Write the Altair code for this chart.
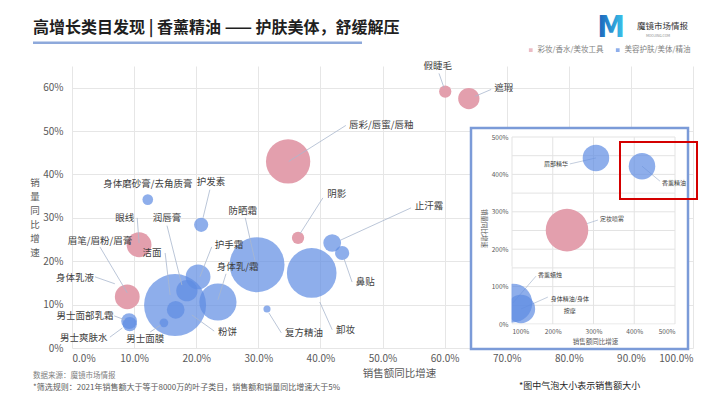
import altair as alt
import pandas as pd

FONT = "Noto Sans CJK SC"
PINK = "#E39FAD"
BLUE = "#5E8BE2"
LEADER = "#A9B7CE"
CAT_P = "彩妆/香水/美妆工具"
CAT_B = "美容护肤/美体/精油"

# ---------------- main chart data ----------------
names = ["身体乳液", "洁面", "防晒霜", "卸妆", "身体乳/霜", "护手霜", "润唇膏", "粉饼", "止汗露",
         "男士面部乳霜", "男士爽肤水", "护发素", "鼻贴", "身体磨砂膏/去角质膏", "男士面膜", "复方精油",
         "唇彩/唇蜜/唇釉", "眉笔/眉粉/眉膏", "眼线", "遮瑕", "假睫毛", "阴影"]
cats = [CAT_B] * 16 + [CAT_P] * 6
sales_growth = [0.089, 0.166, 0.298, 0.386, 0.235, 0.203, 0.185, 0.167, 0.419,
                0.092, 0.093, 0.208, 0.435, 0.122, 0.148, 0.314,
                0.348, 0.089, 0.108, 0.639, 0.601, 0.364]
volume_growth = [0.118, 0.099, 0.192, 0.173, 0.106, 0.164, 0.132, 0.088, 0.242,
                 0.062, 0.055, 0.284, 0.219, 0.342, 0.058, 0.090,
                 0.430, 0.118, 0.238, 0.575, 0.591, 0.254]
sales_size = [10, 153, 120, 98, 55, 24.5, 18, 12.5, 12.5,
              10, 8, 8, 8, 4.5, 3, 2,
              78, 24.5, 24.5, 18, 6, 6]

x_ticks = [0.0, 0.1, 0.2, 0.3, 0.4, 0.5, 0.6, 0.7, 0.8, 0.9, 1.0]
y_ticks = [0.0, 0.1, 0.2, 0.3, 0.4, 0.5, 0.6]

# labels of the main chart
lab_names = ["假睫毛", "遮瑕", "唇彩/唇蜜/唇釉", "身体磨砂膏/去角质膏", "护发素", "阴影", "止汗露", "鼻贴",
             "眼线", "防晒霜", "卸妆", "护手霜", "身体乳/霜", "润唇膏", "洁面", "粉饼", "复方精油",
             "眉笔/眉粉/眉膏", "身体乳液", "男士面部乳霜", "男士爽肤水", "男士面膜"]
lab_x = [0.589, 0.680, 0.446, 0.122, 0.224, 0.411, 0.552, 0.457,
         0.085, 0.275, 0.425, 0.230, 0.233, 0.153, 0.129, 0.235, 0.343,
         0.045, 0.005, 0.021, 0.019, 0.118]
lab_y = [0.649, 0.600, 0.515, 0.379, 0.383, 0.356, 0.328, 0.152,
         0.300, 0.316, 0.042, 0.238, 0.187, 0.300, 0.219, 0.037, 0.035,
         0.247, 0.162, 0.074, 0.023, 0.021]
lab_align = ["center", "left", "left", "center", "center", "left", "left", "left",
             "center", "center", "left", "left", "left", "center", "center", "left", "left",
             "center", "center", "center", "center", "center"]
lead_x1 = [0.591, 0.675, 0.441, None, 0.222, 0.404, 0.546, 0.451,
           0.105, 0.279, 0.419, 0.225, 0.248, 0.153, 0.150, 0.229, 0.337,
           0.045, 0.037, 0.068, 0.061, 0.126]
lead_y1 = [0.633, 0.596, 0.513, None, 0.365, 0.346, 0.323, 0.152,
           0.300, 0.300, 0.042, 0.233, 0.171, 0.282, 0.219, 0.039, 0.035,
           0.233, 0.164, 0.074, 0.025, 0.037]
lead_x2 = [0.599, 0.649, 0.349, None, 0.211, 0.367, 0.433, 0.438,
           0.108, 0.295, 0.399, 0.206, 0.235, 0.177, 0.158, 0.193, 0.317,
           0.089, 0.069, 0.085, 0.081, 0.143]
lead_y2 = [0.600, 0.580, 0.430, None, 0.300, 0.263, 0.249, 0.206,
           0.242, 0.199, 0.106, 0.164, 0.111, 0.145, 0.122, 0.076, 0.081,
           0.127, 0.148, 0.065, 0.046, 0.053]

# ---------------- inset data ----------------
in_names = ["香薰蜡烛", "身体精油/身体按摩", "眉部精华", "香薰精油", "定妆喷雾"]
in_cats = [CAT_B, CAT_B, CAT_B, CAT_B, CAT_P]
in_sales_growth = [1.02, 1.22, 3.06, 4.19, 2.35]
in_volume_growth = [0.56, 0.40, 4.44, 4.22, 2.51]
in_sales_size = [60, 32, 28, 28, 72]
in_x_ticks = [1, 2, 3, 4, 5]
in_y_ticks = [0, 0.5, 1, 1.5, 2, 2.5, 3, 3.5, 4, 4.5, 5]

in_lab_text = ["香薰蜡烛", "身体精油/身体\n按摩", "眉部精华", "香薰精油", "定妆喷雾"]
in_lab_x = [1.638, 2.42, 2.374, 4.681, 3.16]
in_lab_y = [1.310, 0.668, 4.278, 3.770, 2.81]
in_lab_align = ["left", "center", "right", "left", "left"]
in_lead_x1 = [1.59, 1.88, 2.42, 4.63, 3.11]
in_lead_y1 = [1.28, 0.72, 4.28, 3.82, 2.78]

y_title_chars = ["销", "量", "同", "比", "增", "速"]

# ---------------- frames ----------------
bub = pd.DataFrame(dict(name=names, cat=cats, x=sales_growth, y=volume_growth, s=sales_size))
bub["ord"] = range(len(bub))
labs = pd.DataFrame(dict(name=lab_names, x=lab_x, y=lab_y, align=lab_align,
                         x1=lead_x1, y1=lead_y1, x2=lead_x2, y2=lead_y2))
leads = labs.dropna()

ibub = pd.DataFrame(dict(name=in_names, cat=in_cats, x=in_sales_growth, y=in_volume_growth, s=in_sales_size))
ilabs = pd.DataFrame(dict(name=in_lab_text, x=in_lab_x, y=in_lab_y, align=in_lab_align,
                          x1=in_lead_x1, y1=in_lead_y1, x2=in_sales_growth, y2=in_volume_growth))
igx = pd.DataFrame(dict(x=in_x_ticks, y0=[0] * 5, y1=[5] * 5))
igy = pd.DataFrame(dict(y=in_y_ticks, x0=[1] * len(in_y_ticks), x1=[5] * len(in_y_ticks)))
one = pd.DataFrame(dict(k=[0]))

color = alt.Color("cat:N", scale=alt.Scale(domain=[CAT_P, CAT_B], range=[PINK, BLUE]),
                  legend=alt.Legend(title=None, orient="none", legendX=455, legendY=-20,
                                    direction="horizontal", symbolType="square", symbolSize=14,
                                    labelFontSize=7.5, labelColor="#7F7F7F", columnPadding=10,
                                    labelOffset=3, symbolStrokeWidth=0, labelFont=FONT))
size = alt.Size("s:Q", scale=alt.Scale(domain=[0, 153], range=[0, 3848]), legend=None)

# ---------------- main layers ----------------
mx_scale = alt.Scale(domain=[0, 1], nice=False)
my_scale = alt.Scale(domain=[0, 0.65], nice=False)
mx = alt.X("x:Q", scale=mx_scale,
           axis=alt.Axis(values=x_ticks, format=".1%", labelFontSize=10, labelColor="#595959",
                         gridColor="#E6E6E6", domain=False, ticks=False, labelPadding=5,
                         title="销售额同比增速", titleFontSize=10.5, titleFontWeight="normal",
                         titleColor="#595959", titleX=327, titleY=20, titleBaseline="top",
                         labelFont=FONT, titleFont=FONT))
my = alt.Y("y:Q", scale=my_scale,
           axis=alt.Axis(values=y_ticks, format=".0%", labelFontSize=10, labelColor="#595959",
                         gridColor="#E6E6E6", domain=False, ticks=False, labelPadding=9,
                         title=None, labelFont=FONT))

blue_b = alt.Chart(bub).transform_filter(alt.datum.cat == CAT_B).mark_circle(opacity=0.7).encode(
    x=mx, y=my, size=size, color=color, order="ord:Q")
pink_b = alt.Chart(bub).transform_filter(alt.datum.cat == CAT_P).mark_circle(opacity=1).encode(
    x=mx, y=my, size=size, color=color, order="ord:Q")
lead_m = alt.Chart(leads).mark_rule(color=LEADER, strokeWidth=0.8).encode(
    x="x1:Q", y="y1:Q", x2="x2:Q", y2="y2:Q")


def labels(df, align, fs):
    return alt.Chart(df).transform_filter(alt.datum.align == align).mark_text(
        align=align, baseline="middle", fontSize=fs, color="#404040", font=FONT).encode(
        x="x:Q", y="y:Q", text="name:N")


lab_c = labels(labs, "center", 9.5)
lab_l = labels(labs, "left", 9.5)


def vtext(txt, x, y, fs, col, align="left", weight="normal", font=FONT, fill=None, baseline="middle"):
    kw = dict(align=align, baseline=baseline, fontSize=fs, fontWeight=weight, font=font)
    if fill is not None:
        kw["fill"] = fill
    else:
        kw["color"] = col
    return alt.Chart(one).mark_text(**kw).encode(x=alt.value(x), y=alt.value(y), text=alt.value(txt))


title = vtext("高增长类目发现 | 香薰精油 —— 护肤美体，舒缓解压", -39, -38, 16, "#1F1F1F", weight="bold")
underline = alt.Chart(one).mark_rect(color="#8EA9DB").encode(
    x=alt.value(-39), x2=alt.value(290), y=alt.value(-24.5), y2=alt.value(-22))
logo_m = vtext("M", 539, -38, 31, None, align="center", weight="bold",
               font="DejaVu Sans Condensed, Roboto",
               fill=alt.LinearGradient(gradient="linear",
                                       stops=[alt.GradientStop(offset=0, color="#1B5FB8"),
                                              alt.GradientStop(offset=1, color="#3CC6EC")],
                                       x1=0, x2=1, y1=0, y2=0))
logo_t = vtext("魔镜市场情报", 565, -40, 8.5, "#333333")
logo_s = vtext("MOOJING.COM", 586, -30, 3.5, "#888888", align="center")
y_title = [vtext(ch, -37, 117 + 14 * i, 9.5, "#595959", align="center")
           for i, ch in enumerate(y_title_chars)]
src = vtext("数据来源：魔镜市场情报", -39, 310, 7.5, "#808080")
rule_t = vtext("*筛选规则：2021年销售额大于等于8000万的叶子类目，销售额和销量同比增速大于5%", -39, 322, 8, "#595959")
note = vtext("*图中气泡大小表示销售额大小", 447, 320, 9, "#262626")

main = alt.layer(blue_b, pink_b, lead_m, lab_c, lab_l, title, underline, logo_m, logo_t, logo_s,
                 *y_title, src, rule_t, note)

# ---------------- inset layers ----------------
ix_scale = alt.Scale(domain=[1, 5], range=[440, 603], nice=False, zero=False)
iy_scale = alt.Scale(domain=[0, 5], range=[258, 71], nice=False, zero=False)
ix = alt.X("x:Q", scale=ix_scale,
           axis=alt.Axis(orient="bottom", offset=-24, values=in_x_ticks, format=".0%", grid=False,
                         ticks=False, domain=False, labelFontSize=6.5, labelColor="#595959",
                         labelPadding=4, labelOverlap=False, title="销售额同比增速", titleFontSize=6.5,
                         titleFontWeight="normal", titleColor="#595959", titleX=523, titleY=17,
                         titleBaseline="middle", zindex=1, labelFont=FONT, titleFont=FONT))
iy = alt.Y("y:Q", scale=iy_scale,
           axis=alt.Axis(orient="left", offset=-440, values=in_y_ticks, format=".0%", grid=False,
                         ticks=False, domain=False, labelFontSize=6.5, labelColor="#595959",
                         labelPadding=4, labelOverlap=False, title="销量同比增速", titleFontSize=6.5,
                         titleAngle=90, titleFontWeight="normal", titleColor="#595959",
                         titleX=-29, titleY=162, titleBaseline="middle", titleAlign="center",
                         zindex=1, labelFont=FONT, titleFont=FONT))

box_fill = alt.Chart(one).mark_rect(fill="white").encode(
    x=alt.value(399), x2=alt.value(616), y=alt.value(62), y2=alt.value(283))
grid_v = alt.Chart(igx).mark_rule(color="#E3E3E3", strokeWidth=1).encode(
    x=ix, y=alt.Y("y0:Q", scale=iy_scale), y2="y1:Q")
grid_h = alt.Chart(igy).mark_rule(color="#E3E3E3", strokeWidth=1).encode(
    y=iy, x=alt.X("x0:Q", scale=ix_scale), x2="x1:Q")
ilead = alt.Chart(ilabs).mark_rule(color=LEADER, strokeWidth=0.7).encode(
    x=alt.X("x1:Q", scale=ix_scale), y=alt.Y("y1:Q", scale=iy_scale), x2="x2:Q", y2="y2:Q")
iblue = alt.Chart(ibub).transform_filter(alt.datum.cat == CAT_B).mark_circle(opacity=0.7).encode(
    x=ix, y=iy, size=size, color=color)
ipink = alt.Chart(ibub).transform_filter(alt.datum.cat == CAT_P).mark_circle(opacity=1).encode(
    x=ix, y=iy, size=size, color=color)
mask_l = alt.Chart(one).mark_rect(fill="white").encode(
    x=alt.value(400.5), x2=alt.value(439.5), y=alt.value(200), y2=alt.value(282))
mask_b = alt.Chart(one).mark_rect(fill="white").encode(
    x=alt.value(400.5), x2=alt.value(615), y=alt.value(258.6), y2=alt.value(282))
box_line = alt.Chart(one).mark_rect(filled=False, stroke="#7B9BD8", strokeWidth=2.5).encode(
    x=alt.value(399), x2=alt.value(616), y=alt.value(62), y2=alt.value(283))
red_box = alt.Chart(one).mark_rect(filled=False, stroke="#D40000", strokeWidth=2).encode(
    x=alt.value(548), x2=alt.value(625), y=alt.value(76), y2=alt.value(133))


def ilabels(align):
    return alt.Chart(ilabs).transform_filter(alt.datum.align == align).mark_text(
        align=align, baseline="middle", fontSize=6, color="#404040", font=FONT,
        lineBreak="\n", lineHeight=12).encode(
        x=alt.X("x:Q", scale=ix_scale), y=alt.Y("y:Q", scale=iy_scale), text="name:N")


inset = alt.layer(box_fill, grid_v, grid_h, ilead, iblue, ipink, mask_l, mask_b, box_line, red_box,
                  ilabels("left"), ilabels("center"), ilabels("right"))

chart = alt.layer(main, inset).resolve_scale(x="independent", y="independent").properties(
    width=621, height=282,
    padding={"left": 64, "top": 58, "right": 9, "bottom": 43},
    autosize=alt.AutoSizeParams(type="none"),
).configure(font=FONT).configure_view(stroke=None)

chart.save("out.html", embed_options={"renderer": "svg", "actions": False})
